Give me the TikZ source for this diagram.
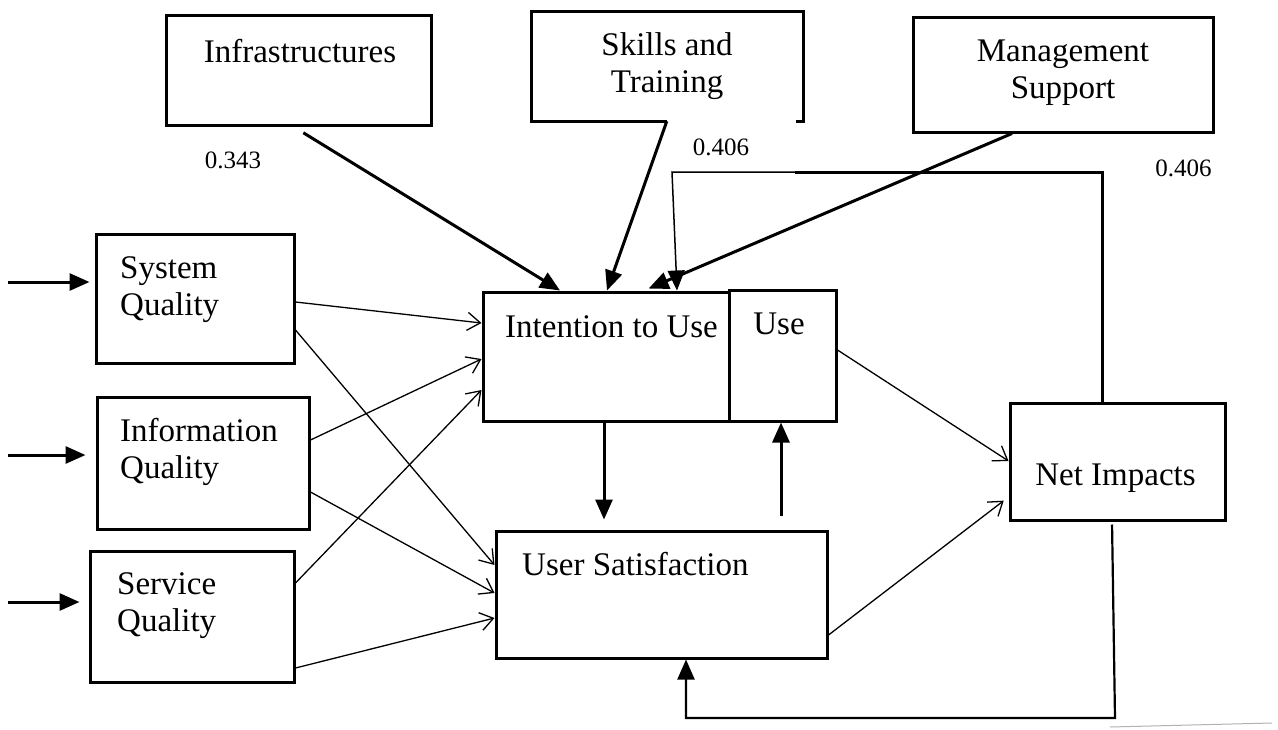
\documentclass[tikz,border=0pt]{standalone}
\usepackage{fontspec}
\setmainfont{Liberation Serif}
\usetikzlibrary{arrows.meta,calc}
\begin{document}
\begin{tikzpicture}[x=1pt,y=-1pt,
  box/.style={draw, line width=3pt, inner sep=0pt},
  ghost/.style={inner sep=0pt},
  txt/.style={inner sep=0pt, align=center, font=\fontsize{33}{37}\selectfont},
  ltxt/.style={inner sep=0pt, align=left, anchor=west, font=\fontsize{33}{37}\selectfont},
  lbl/.style={inner sep=0pt, font=\fontsize{25}{30}\selectfont},
  thinarrow/.style={line width=1.3pt, -{Straight Barb[length=13pt,width=18pt,line width=1.3pt]}},
  thickarrow/.style={line width=3pt, -{Triangle[length=20pt,width=17pt]}},
  medarrow/.style={line width=2.2pt, -{Triangle[length=20pt,width=17pt]}},
  feedline/.style={line width=3pt},
  ]
\useasboundingbox (0,0) rectangle (1278,729);
\fill[white] (0,0) rectangle (1278,729);

% top boxes
\node[box, minimum width=265, minimum height=110] (inf) at (298.5,70.5) {};
\node[txt] (inft) at (300,51) {Infrastructures};

\node[ghost, minimum width=271, minimum height=109] (skills) at (667.5,66.5) {};
\coordinate (skgap) at ($(skills.south west)+(135,0)$);
\draw[line width=3pt] (skgap) -- (skills.south west) -- (skills.north west)
  -- (skills.north east) -- (skills.south east) -- ++(-7,0);
\node[txt] (skillst) at (667,66) {Skills and\\Training};

\node[box, minimum width=300, minimum height=115] (mgmt) at (1063,74.5) {};
\node[txt] (mgmtt) at (1063,73) {Management\\Support};

% left boxes
\node[box, minimum width=198, minimum height=129] (sq) at (195,298.5) {};
\node[ltxt] (sqt) at (120,290) {System\\Quality};
\node[box, minimum width=212, minimum height=132] (iq) at (203,463) {};
\node[ltxt] (iqt) at (120,452) {Information\\Quality};
\node[box, minimum width=204, minimum height=131] (svq) at (192,616.5) {};
\node[ltxt] (svqt) at (117,606) {Service\\Quality};

% centre boxes
\node[box, minimum width=246, minimum height=129] (itu) at (606,356.5) {};
\node[txt] (itut) at (611.5,327) {Intention to Use};
\node[box, minimum width=107, minimum height=131] (use) at (782.5,355.5) {};
\node[txt] (uset) at (779,323.5) {Use};
\node[box, minimum width=331, minimum height=127] (us) at (661.5,594.5) {};
\node[ltxt] (ust) at (522,564) {User Satisfaction};

% net impacts
\node[box, minimum width=215, minimum height=117] (ni) at (1117.5,461.5) {};
\node[txt] (nit) at (1115.5,478) {Net Impacts};

% labels
\node[lbl] (l1) at (233,160) {0.343};
\node[lbl] (l2) at (721,147) {0.406};
\node[lbl] (l3) at (1183.5,168) {0.406};

% input arrows
\coordinate (in1) at (8,282);
\coordinate (in2) at (8,455);
\coordinate (in3) at (8,602);
\draw[thickarrow, shorten >=5pt] (in1) -- (sq.west |- 0,282);
\draw[thickarrow, shorten >=10pt] (in2) -- (iq.west |- 0,455);
\draw[thickarrow, shorten >=9pt] (in3) -- (svq.west |- 0,602);

% thin arrows
\draw[thinarrow] (sq.east |- 0,302) -- (itu.west |- 0,323);
\draw[thinarrow] (sq.east |- 0,330) -- (us.west |- 0,565);
\draw[thinarrow] (iq.east |- 0,440) -- (itu.west |- 0,359);
\draw[thinarrow] (iq.east |- 0,492) -- (us.west |- 0,593);
\draw[thinarrow] (svq.east |- 0,583) -- (itu.west |- 0,390);
\draw[thinarrow] (svq.east |- 0,668) -- (us.west |- 0,618);
\draw[thinarrow] (use.east |- 0,350) -- (ni.west |- 0,461);
\draw[thinarrow, shorten >=6pt] (us.east |- 0,635) -- (ni.west |- 0,497);

% thick arrows from top boxes
\draw[thickarrow, shorten <=11pt] (inf.south -| 294,0) -- (itu.north -| 560,0);
\draw[thickarrow] (skgap) -- (itu.north -| 607,0);
\draw[thickarrow, shorten >=5pt] (mgmt.south -| 1012,0) -- (itu.north -| 644,0);

% feedback from net impacts to intention to use
\coordinate (fbcorner) at (672,172);
\coordinate (fbmid) at (795,172);
\draw[feedline] (ni.north -| 1102,0) |- (fbmid);
\draw[line width=1.5pt, -{Triangle[length=20pt,width=17pt]}] (fbmid) -- (fbcorner) -- (itu.north -| 677,0);

% intention to use -> user satisfaction, user satisfaction -> use
\draw[thickarrow, shorten >=10pt] (itu.south -| 604,0) -- (us.north -| 604,0);
\draw[thickarrow, shorten <=14pt] (us.north -| 781,0) -- (use.south -| 781,0);

% net impacts -> user satisfaction (bottom loop)
\coordinate (bl1) at (1115,718);
\coordinate (bl2) at (686,718);
\draw[medarrow, shorten <=3pt] (ni.south -| 1112,0) -- (bl1) -- (bl2) -- (us.south -| 686,0);

% faint scan line at bottom right
\draw[gray!60, line width=1pt] (1110,727) -- (1272,723);
\end{tikzpicture}
\end{document}
